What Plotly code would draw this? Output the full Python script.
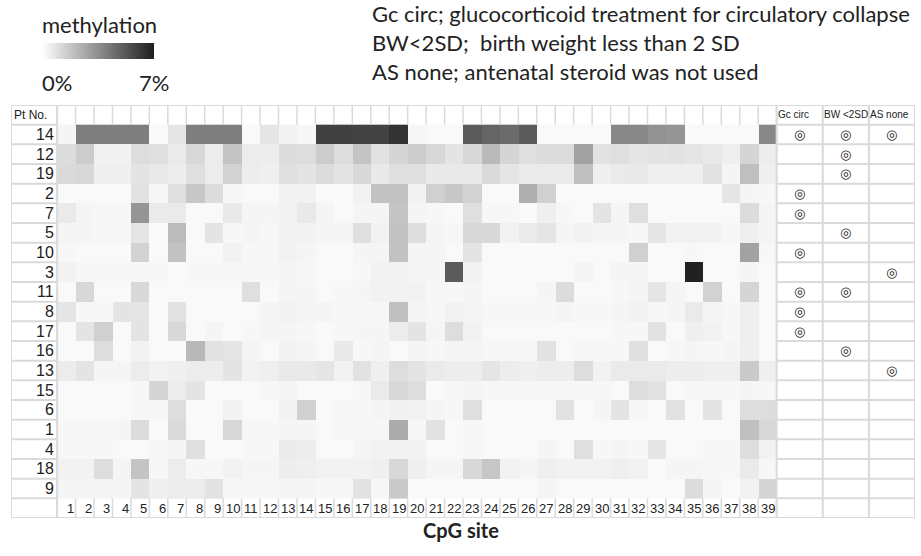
import plotly.graph_objects as go

# ---------------- data ----------------
patients = ["14", "12", "19", "2", "7", "5", "10", "3", "11", "8", "17", "16", "13", "15", "6", "1", "4", "18", "9"]
cpg_sites = [str(i) for i in range(1, 40)]

# methylation (%) per patient row (same order as `patients`), CpG sites 1..39
meth_14 = [0.3,4.0,4.0,4.0,4.0,0.2,0.8,4.0,4.0,4.0, 0.2,0.8,0.4,0.25,5.9,5.9,5.85,5.85,6.35,0.25, 0.2,0.2,5.1,4.8,4.6,5.1,0.2,0.2,0.2,0.2, 3.7,3.7,3.4,3.3,0.2,0.2,0.2,0.2,3.7]
meth_12 = [1.1,1.6,0.45,0.45,1.05,1.0,0.65,1.2,0.6,1.85, 0.6,0.55,1.1,1.05,1.6,1.05,1.85,0.9,1.3,1.6, 1.2,0.85,1.2,2.15,1.3,1.0,1.1,1.1,2.9,0.9, 1.0,0.8,0.85,0.9,0.8,0.7,0.5,1.3,0.55]
meth_19 = [1.15,1.2,0.5,0.5,0.85,0.7,0.55,1.0,0.6,1.4, 0.55,0.5,1.0,0.85,1.1,0.85,1.2,0.7,1.0,1.0, 0.7,0.7,0.7,1.15,0.8,0.65,0.65,0.65,1.95,0.5, 0.65,0.7,0.5,0.5,0.5,0.9,0.3,2.0,0.5]
meth_2 = [0.2,0.2,0.2,0.2,0.9,0.25,1.0,1.75,1.1,0.25, 0.2,0.2,0.4,0.4,0.2,0.2,0.4,1.9,1.9,0.4, 1.45,1.75,1.4,0.2,0.2,2.5,1.45,0.2,0.2,0.2, 0.2,0.2,0.2,0.2,0.2,0.2,0.8,0.3,0.25]
meth_7 = [0.65,0.3,0.25,0.25,3.3,0.65,0.65,0.2,0.2,0.7, 0.3,0.3,0.4,0.7,0.3,0.2,0.3,0.3,1.85,0.3, 0.25,0.2,1.0,0.25,0.25,0.2,0.5,0.25,0.2,0.85, 0.3,1.0,0.2,0.2,0.2,0.2,0.2,1.1,0.3]
meth_5 = [0.3,0.3,0.25,0.25,0.8,0.2,2.1,0.2,0.85,0.25, 0.3,0.25,0.4,0.4,0.3,0.3,1.0,0.4,1.9,1.05, 0.3,0.25,1.2,1.2,0.4,0.65,0.8,0.3,0.4,0.3, 0.3,0.25,0.8,0.4,0.4,0.4,0.25,0.5,0.3]
meth_10 = [0.25,0.2,0.2,0.2,1.4,0.2,1.9,0.2,0.2,0.4, 0.25,0.25,0.4,0.3,0.2,0.2,0.3,0.3,1.9,0.3, 0.3,0.2,0.85,0.2,0.2,0.2,0.2,0.2,0.2,0.2, 0.2,1.45,0.2,0.2,0.25,0.2,0.2,2.9,0.25]
meth_3 = [0.4,0.25,0.25,0.25,0.25,0.25,0.2,0.25,0.25,0.25, 0.25,0.25,0.3,0.25,0.2,0.2,0.25,0.4,0.4,0.3, 0.3,5.1,0.4,0.2,0.2,0.2,0.2,0.2,0.3,0.2, 0.3,0.3,0.2,0.2,6.9,0.2,0.2,0.3,0.2]
meth_11 = [0.2,1.2,0.2,0.2,1.2,0.2,0.2,0.2,0.2,0.2, 1.0,0.2,0.3,0.3,0.2,0.25,0.3,0.4,0.4,0.4, 0.25,0.25,0.3,0.2,0.2,0.2,0.3,1.1,0.2,0.2, 0.25,0.3,0.8,0.3,0.2,1.4,0.2,1.3,0.2]
meth_8 = [0.8,0.25,0.25,0.85,0.8,0.2,0.9,0.2,0.2,0.2, 0.2,0.3,0.4,0.3,0.3,0.25,0.25,0.25,1.95,0.3, 0.25,0.4,0.3,0.25,0.25,0.25,0.25,0.3,0.25,0.25, 0.3,0.4,0.25,0.3,0.65,0.3,0.25,0.5,0.2]
meth_17 = [0.2,0.85,1.45,0.2,0.85,0.2,1.2,0.2,0.3,0.2, 0.25,0.3,0.3,0.25,0.2,0.25,0.3,0.3,0.6,0.85, 0.3,1.05,0.4,0.2,0.2,0.2,0.2,0.2,0.2,0.2, 0.25,0.25,0.9,0.2,0.5,0.4,0.25,0.5,0.2]
meth_16 = [0.2,0.2,1.05,0.2,0.4,0.2,0.2,2.2,0.9,0.8, 0.3,0.2,0.4,0.3,0.2,0.7,0.25,0.3,0.2,0.3, 0.25,0.3,0.3,0.25,0.25,0.25,0.9,0.2,0.25,0.25, 0.25,1.0,0.2,0.25,0.3,0.25,0.3,0.5,0.2]
meth_13 = [0.6,0.85,0.3,0.3,0.6,0.4,0.5,0.6,0.55,0.85, 0.4,0.5,0.7,0.7,0.8,0.4,0.9,0.5,1.05,0.85, 0.65,0.55,0.55,0.8,0.6,0.5,0.55,0.55,1.05,0.4, 0.65,0.65,0.65,0.55,0.55,0.5,0.5,1.65,0.5]
meth_15 = [0.2,0.2,0.2,0.2,0.25,1.3,0.6,0.85,0.2,0.2, 0.2,0.25,0.3,0.2,0.2,0.2,0.25,0.65,1.2,1.05, 0.2,0.25,0.3,0.25,0.25,0.25,0.25,0.25,0.25,0.25, 0.2,1.05,0.9,0.2,0.25,0.25,0.25,0.3,0.25]
meth_6 = [0.2,0.2,0.2,0.2,0.25,0.25,1.05,0.2,0.2,0.4, 0.2,0.2,0.4,1.45,0.2,0.25,0.25,0.3,0.45,0.4, 0.3,0.25,1.0,0.2,0.2,0.2,0.2,0.9,0.2,0.3, 0.85,0.25,0.2,0.9,0.2,0.85,0.2,1.05,1.05]
meth_1 = [0.25,0.25,0.25,0.3,1.1,0.2,1.15,0.2,0.2,1.2, 0.25,0.25,0.3,0.3,0.2,0.25,0.25,0.25,2.6,0.25, 0.9,0.2,0.25,0.2,0.2,0.2,0.2,0.2,0.2,0.2, 0.2,0.2,0.2,0.2,0.2,0.2,0.2,1.95,1.2]
meth_4 = [0.25,0.25,0.25,0.2,0.2,0.25,0.3,1.0,0.2,0.2, 0.25,0.25,0.65,0.55,0.2,0.2,0.3,0.4,0.4,0.4, 0.2,0.2,0.25,0.2,0.2,0.2,0.3,0.2,1.0,0.25, 0.3,0.25,0.8,0.2,0.2,0.25,0.25,1.05,0.4]
meth_18 = [0.4,0.4,1.05,0.3,1.85,0.25,0.6,0.25,0.25,0.4, 0.3,0.3,0.55,0.5,0.4,0.4,0.4,0.5,1.2,0.5, 0.3,0.3,1.2,1.75,0.4,0.3,0.5,0.4,0.4,0.4, 0.5,0.4,0.2,0.3,0.3,0.25,0.25,0.65,0.25]
meth_9 = [0.3,0.3,0.3,0.3,0.85,0.5,0.6,0.6,0.9,0.25, 0.25,0.25,0.3,0.3,0.25,0.25,0.9,0.25,1.65,0.2, 0.2,0.2,0.2,0.2,0.2,0.2,0.3,0.2,0.2,0.2, 0.2,0.2,0.2,0.2,1.1,0.3,0.2,0.4,1.3]

meth_rows = [meth_14, meth_12, meth_19, meth_2, meth_7, meth_5, meth_10, meth_3, meth_11,
             meth_8, meth_17, meth_16, meth_13, meth_15, meth_6, meth_1, meth_4, meth_18, meth_9]

flag_columns = ["Gc circ", "BW <2SD", "AS none"]
gc_circ = ["14", "2", "7", "10", "11", "8", "17"]
bw_2sd = ["14", "12", "19", "5", "11", "16"]
as_none = ["14", "3", "13"]
flag_sets = [gc_circ, bw_2sd, as_none]

legend_lines = ["Gc circ; glucocorticoid treatment for circulatory collapse",
                "BW&lt;2SD;&nbsp; birth weight less than 2 SD",
                "AS none; antenatal steroid was not used"]

# ---------------- figure ----------------
W, H = 921, 556
ML, MR, MT, MB = 11, 6, 105, 38
NARROW = "Liberation Sans, Arial, sans-serif"
GRID = "#dadada"
n_rows = len(patients)
n_cols = len(cpg_sites)
X0, X1 = -3.0, n_cols - 0.5 + 7.5     # Pt No. column left edge, AS none right edge
flag_w = 2.5

fig = go.Figure()
fig.add_trace(go.Heatmap(
    z=meth_rows, x=list(range(n_cols)), y=list(range(n_rows)),
    zmin=0, zmax=7,
    colorscale=[[0, "#ffffff"], [1, "#1e1e1e"]],
    hoverinfo="skip",
    colorbar=dict(orientation="h", xref="container", yref="container",
                  x=43 / W, xanchor="left", y=1 - 43 / H, yanchor="top",
                  lenmode="pixels", len=112, thickness=16,
                  xpad=0, ypad=0, outlinewidth=0, showticklabels=False, ticks=""),
))

shapes = []
def hline(x0, x1, y, w=2):
    shapes.append(dict(type="line", x0=x0, x1=x1, y0=y, y1=y, xref="x", yref="y",
                       line=dict(color=GRID, width=w), layer="above"))
def vline(x, y0, y1, w=2):
    shapes.append(dict(type="line", x0=x, x1=x, y0=y0, y1=y1, xref="x", yref="y",
                       line=dict(color=GRID, width=w), layer="above"))

top, bottom = -1.5, n_rows + 0.5
hline(X0, X1, top)
hline(X0, X1, bottom)
vline(X0, top, bottom)
vline(X1, top, bottom)
for j in range(n_cols + 1):
    vline(j - 0.5, top, -0.5, w=1.5)
    vline(j - 0.5, n_rows - 0.5, bottom, w=1.5)
for i in range(n_rows + 1):
    hline(X0, -0.5, i - 0.5)
    hline(n_cols - 0.5, X1, i - 0.5)
vline(-0.5, top, bottom)
for k in range(3):
    vline(n_cols - 0.5 + k * flag_w, top, bottom)

annotations = []
def txt(x, y, s, xanchor="center", size=14, family=NARROW, color="#222"):
    annotations.append(dict(x=x, y=y, text=s, xref="x", yref="y",
                            showarrow=False, xanchor=xanchor, yanchor="middle",
                            font=dict(size=size, family=family, color=color)))

txt(X0 + 0.06, -1, "Pt No.", xanchor="left", size=12)
for i, p in enumerate(patients):
    txt(-0.55, i, p, xanchor="right", size=16)
for j, c in enumerate(cpg_sites):
    txt(j + 0.5, n_rows, c, xanchor="right", size=13)
for k, name in enumerate(flag_columns):
    txt(n_cols - 0.5 + k * flag_w - 0.05, -1, name, xanchor="left", size=10)
    for i, p in enumerate(patients):
        if p in flag_sets[k]:
            txt(n_cols - 0.5 + k * flag_w + flag_w / 2, i, "◎", size=13, family="DejaVu Sans")

# legend texts placed by pixel position (converted to x/y domain fractions)
SANS = "Lato, Open Sans, sans-serif"
plot_w, plot_h = W - ML - MR, H - MT - MB
def ptxt(px, py, s, xanchor="left", size=18):
    annotations.append(dict(x=(px - ML) / plot_w, y=1 - (py - MT) / plot_h,
                            xref="x domain", yref="y domain",
                            text=s, showarrow=False, xanchor=xanchor, yanchor="middle",
                            font=dict(size=size, family=SANS, color="#222")))

ptxt(40, 25, "methylation", size=22)
ptxt(40, 82, "0%", size=22)
ptxt(171, 82, "7%", xanchor="right", size=22)
for k, line in enumerate(legend_lines):
    ptxt(370, 14 + 28.5 * k, line, size=22)
ptxt(461, 530, "<b>CpG site</b>", xanchor="center", size=20)

fig.update_layout(
    width=W, height=H,
    margin=dict(l=ML, r=MR, t=MT, b=MB),
    paper_bgcolor="white", plot_bgcolor="white",
    xaxis=dict(range=[X0, X1], visible=False, fixedrange=True),
    yaxis=dict(range=[bottom, top], visible=False, fixedrange=True),
    shapes=shapes, annotations=annotations,
    showlegend=False,
)

fig.write_html("out.html", config={"displayModeBar": False},
               post_script="document.body.style.margin='0px';")
